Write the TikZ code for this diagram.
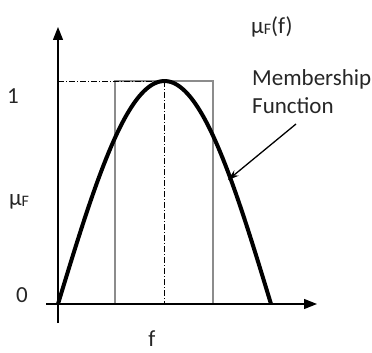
\documentclass[tikz,border=0pt]{standalone}
\usepackage{fontspec}
\setmainfont{Carlito}
\usetikzlibrary{arrows.meta}
\begin{document}
\begin{tikzpicture}[x=1pt,y=-1pt,
  lbl/.style={inner sep=0pt, font=\fontsize{23}{27}\selectfont, text=black!85},
  axis/.style={line width=1.4pt, -{Triangle[length=13pt,width=10pt]}},
  curve/.style={line width=4pt},
  box/.style={draw=black!45, line width=2.6pt},
  guide/.style={line width=1pt, dash pattern=on 6pt off 2pt on 1pt off 2pt},
  pointer/.style={line width=1.3pt, -{Stealth[length=11pt,width=7pt]}}]
\useasboundingbox (0,0) rectangle (372,353);
% points
\coordinate (ybot) at (58,323);
\coordinate (ytop) at (58,27);
\coordinate (xleft) at (46,304);
\coordinate (xright) at (317,304);
\coordinate (o) at (58,304);
\coordinate (peak) at (164,81);
\coordinate (peakbase) at (164,304);
\coordinate (one) at (58,81);
\coordinate (boxA) at (115,81);
\coordinate (boxB) at (213,304);
\coordinate (arrowtail) at (296,124);
\coordinate (arrowhead) at (228,180);
% box
\draw[box] (boxA) rectangle (boxB);
% guides
\draw[guide] (one) -- (peak);
\draw[guide] (peak) -- (peakbase);
% axes
\draw[axis] (ybot) -- (ytop);
\draw[axis] (xleft) -- (xright);
% curve
\draw[curve] plot[domain=0:180, samples=80, smooth] ({58+1.1833*\x},{304-223*sin(\x)});
% pointer
\draw[pointer] (arrowtail) -- (arrowhead);
% labels
\node[lbl, anchor=base west] (mutitle) at (251,34) {μ\raisebox{-0.5pt}{\fontsize{16}{18}\selectfont F}(f)};
\node[lbl, anchor=base west] (memb) at (252,85) {Membership};
\node[lbl, anchor=base west] (func) at (252,113) {Function};
\node[lbl] (lone) at (13,96) {1};
\node[lbl] (lmu) at (19,202) {μ\raisebox{-0.5pt}{\fontsize{16}{18}\selectfont F}};
\node[lbl] (lzero) at (22,295) {0};
\node[lbl, anchor=base] (lf) at (152,346) {f};
\end{tikzpicture}
\end{document}
